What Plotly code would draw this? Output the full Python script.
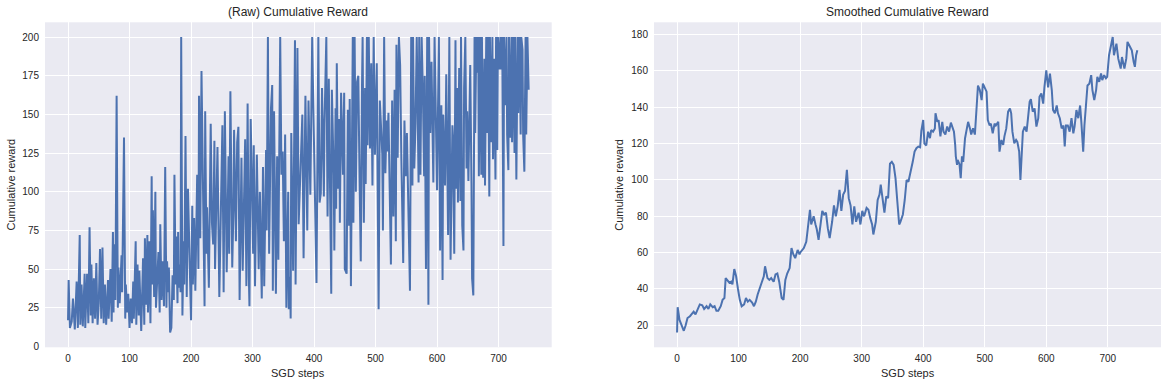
import plotly.graph_objects as go

# ---------------- data ----------------
raw_steps = [
    0, 1, 3, 6, 8, 11, 14, 16, 19, 20, 22, 24, 27, 28, 31, 33, 35, 37, 38, 40,
    42, 44, 46, 48, 50, 52, 54, 56, 58, 60, 62, 65, 66, 69, 71, 73, 74, 75, 77, 79,
    81, 82, 84, 87, 88, 91, 93, 94, 96, 98, 100, 102, 104, 106, 107, 110, 111, 113, 115, 116,
    119, 122, 124, 125, 127, 129, 130, 132, 134, 136, 137, 138, 140, 142, 143, 145, 147, 149, 150, 152,
    154, 156, 158, 160, 161, 163, 164, 166, 168, 170, 172, 173, 175, 176, 178, 179, 180, 181, 183, 184,
    186, 188, 189, 191, 193, 195, 197,
    200, 202, 203, 205, 207, 210, 212, 213, 215, 217, 219, 222, 223, 225, 226, 229, 232, 234, 236, 238,
    239, 241, 243, 246, 249, 251, 253, 255, 258, 261, 262, 264, 267, 269, 270, 273, 275, 277, 279, 282,
    284, 288, 290, 292, 294, 295, 297, 299, 301, 302, 304, 307, 310, 312, 315, 317, 319, 322, 323, 325,
    327, 330, 332, 333, 335, 338, 340, 342, 345, 347, 349, 351, 353, 355, 358, 359, 361, 362, 363, 366,
    369, 370, 373, 375, 378, 381, 383, 386, 389, 391, 394, 397, 398,
    401, 404, 407, 409, 411, 413, 416, 417, 420, 422, 424, 426, 428, 429, 432, 433, 435, 436, 437, 439,
    441, 442, 444, 447, 449, 450, 453, 455, 457, 458, 460, 463, 464, 466, 468, 470, 472, 474, 476, 478,
    479, 481, 483, 484, 486, 487, 489, 491, 493, 495, 497, 499, 502, 503, 505, 507, 509, 511, 512, 514,
    516, 518, 519, 521, 523, 525, 527, 529, 531, 533, 534, 536, 538, 540, 542, 543, 545, 547, 549, 551,
    553, 556, 558, 560, 561, 563, 565, 567, 570, 571, 573, 575, 577, 579, 580, 582, 584, 586, 587, 589,
    591, 594, 596, 598, 600,
    603, 604, 605, 607, 609, 610, 613, 615, 616, 618, 620, 621, 622, 625, 626, 628, 630, 631, 633, 634,
    636, 638, 639, 641, 643, 644, 646, 648, 649, 651, 652, 654, 656, 657, 659, 661, 662, 664, 666, 667,
    668, 670, 672, 673, 675, 677, 678, 680, 681, 683, 685, 686, 688, 690, 691, 693, 695, 696, 698, 699,
    701, 703, 704, 706, 708, 709, 711, 713, 714, 716, 717, 719, 721, 722, 724, 726, 727, 729, 731, 732,
    734, 736, 737, 739, 740, 742, 744, 745, 747, 749,
]
raw_values = [
    17, 43, 12, 16, 31, 11, 42, 12, 72, 14, 40, 13, 47, 12, 47, 15, 77, 20, 53, 15,
    44, 18, 54, 14, 28, 63, 18, 64, 15, 40, 14, 43, 18, 50, 16, 74, 22, 66, 30, 162,
    25, 51, 28, 59, 35, 135, 18, 40, 22, 34, 12, 31, 15, 42, 18, 68, 14, 53, 20, 49,
    10, 57, 14, 70, 27, 72, 22, 68, 15, 110, 40, 88, 32, 100, 25, 40, 61, 22, 79, 30,
    55, 26, 116, 25, 55, 35, 51, 9, 12, 46, 30, 111, 40, 71, 28, 74, 38, 53, 35, 200,
    20, 68, 40, 136, 32, 102, 60,
    17, 91, 40, 83, 36, 111, 50, 162, 70, 178, 102, 26, 152, 60, 90, 38, 144, 80, 66, 133,
    50, 94, 129, 32, 89, 143, 35, 152, 48, 123, 60, 165, 51, 90, 140, 68, 132, 142, 30, 122,
    49, 134, 39, 157, 45, 26, 147, 111, 60, 130, 39, 124, 50, 100, 31, 116, 39, 127, 75, 200,
    60, 154, 169, 36, 152, 34, 123, 56, 200, 111, 126, 68, 137, 25, 100, 24, 45, 18, 138, 49,
    198, 40, 193, 79, 117, 150, 57, 162, 75, 159, 98, 200, 175,
    99, 41, 200, 93, 99, 167, 97, 144, 200, 84, 173, 110, 34, 166, 111, 62, 154, 89, 183, 102,
    147, 80, 164, 111, 164, 50, 47, 153, 78, 160, 39, 200, 80, 200, 100, 171, 175, 109, 55, 168,
    200, 80, 167, 105, 200, 130, 200, 128, 183, 104, 200, 124, 183, 127, 24, 159, 145, 124, 75, 200,
    112, 146, 126, 151, 102, 53, 159, 84, 166, 68, 195, 122, 200, 182, 121, 104, 54, 146, 110, 138,
    95, 36, 200, 104, 200, 115, 144, 200, 106, 200, 111, 200, 164, 110, 175, 50, 200, 27, 200, 138,
    184, 106, 200, 156, 101,
    200, 104, 62, 156, 43, 150, 104, 176, 128, 72, 200, 137, 56, 143, 135, 60, 198, 102, 167, 93,
    180, 94, 200, 78, 62, 167, 200, 115, 152, 107, 131, 182, 106, 44, 33, 200, 138, 200, 177, 200,
    110, 200, 111, 200, 109, 186, 104, 200, 138, 200, 97, 200, 132, 200, 121, 186, 108, 200, 127, 200,
    179, 200, 179, 200, 65, 200, 156, 200, 137, 114, 200, 135, 200, 132, 200, 125, 200, 108, 200, 151,
    200, 137, 200, 192, 137, 113, 200, 137, 200, 166,
]

smooth_steps = [
    0, 1, 4, 8, 11, 14, 17, 21, 24, 27, 30, 34, 37, 41, 44, 48, 51, 54, 58, 61,
    64, 67, 71, 74, 77, 79, 82, 85, 88, 90, 93, 96, 99, 102, 105, 109, 112, 115, 118, 122,
    125, 128, 131, 135, 138, 141, 143, 147, 150, 153, 157, 160, 163, 166, 170, 173, 176, 179, 183, 186,
    189, 192, 196, 199,
    200, 203, 206, 210, 213, 216, 218, 222, 225, 227, 230, 233, 236, 239, 242, 245, 248, 252, 255, 258,
    261, 264, 267, 270, 273, 276, 279, 282, 285, 288, 291, 295, 298, 301, 304, 308, 311, 314, 317, 319,
    323, 326, 329, 331, 334, 337, 340, 343, 346, 349, 352, 355, 358, 361, 363, 367, 370, 373, 376, 380,
    383, 386, 389, 392, 395, 397, 400, 402, 405,
    408, 411, 413, 416, 419, 420, 423, 425, 428, 431, 433, 436, 439, 442, 445, 447, 450, 452, 453, 455,
    456, 459, 461, 463, 465, 468, 470, 473, 476, 478, 481, 484, 487, 489, 492, 495, 497, 500, 503, 505,
    508, 510, 513, 516, 518, 522, 524, 527, 530, 532, 535, 538, 541, 543, 545, 548, 551, 553, 556, 558,
    560, 562, 565, 568, 570, 573, 575, 578, 581, 584, 587, 589, 592, 595, 597,
    600, 603, 606, 609, 611, 614, 617, 619, 622, 625, 628, 630, 632, 635, 638, 641, 644, 646, 649, 652,
    655, 657, 660, 662, 665, 667, 670, 673, 675, 678, 681, 683, 686, 689, 691, 694, 697, 699, 702, 705,
    708, 710, 712, 714, 717, 719, 721, 723, 725, 727, 730, 732, 735, 737, 739, 742, 744, 746, 748,
]
smooth_values = [
    16, 30, 23, 20, 17, 20, 24, 25, 26.5, 27.5, 26, 29, 31.5, 31, 29, 30.5, 29, 31.5, 30, 30.5,
    28, 28, 30.5, 34, 35, 46, 45, 43.5, 44, 42.5, 51, 47, 40, 34, 30.5, 31.5, 35, 33, 34, 32.5,
    30.5, 33, 37, 41.5, 43.5, 47, 52.5, 46, 45, 46, 44, 48, 48.5, 44, 35, 34, 45, 48.5, 51.5, 62.5,
    59, 57, 61.5, 59,
    60, 61, 62.5, 66, 73.5, 83.6, 75.5, 80, 75.5, 73, 67, 75.5, 83, 81, 82, 73.5, 68, 77, 86, 80,
    85.5, 94.6, 83, 92, 94, 105.6, 90, 86, 75.5, 85.5, 77, 82, 75.5, 83, 80, 84.6, 83.6, 79, 75.5, 70,
    77, 89, 92, 97.4, 89, 82, 91, 90, 109, 110, 108.3, 101, 88, 75.5, 77, 81, 89, 100, 99, 104.7,
    110, 115.6, 117.5, 118.4, 118, 127, 133, 120, 119,
    126.6, 123, 127.5, 126.6, 128.4, 136.7, 132, 133, 124, 132, 126.6, 125, 129.4, 126.6, 131.6, 130, 126.6, 119.3, 113, 108.3,
    111, 108.7, 101, 113, 110, 123, 126.6, 132, 128.4, 125, 128.4, 125, 141, 152, 149.5, 144, 153, 150.4, 148.6, 133,
    130, 131, 125.7, 131, 130, 132, 115.6, 122, 119.3, 124, 128.4, 137.6, 139.4, 136.7, 126.6, 120.2, 122, 121, 115.6, 100,
    116.5, 126.6, 129.4, 126.6, 133, 143, 144.5, 137.6, 139.4, 129.4, 134, 145.8, 147.6, 142, 151,
    160.4, 151, 158.6, 149.5, 138.5, 136.7, 141, 136.7, 134, 128.4, 130, 118.4, 130, 130, 126.6, 134, 125.7, 129.4, 138.5, 134,
    141, 132, 115.6, 130, 144, 152, 153, 157.7, 149.5, 144, 149.5, 156.8, 154, 158.6, 155, 157.7, 156, 156.8, 168.7, 174,
    178.7, 168.7, 171.4, 175, 166.8, 164, 161.3, 167.7, 164, 161.3, 166.8, 176, 174, 172.3, 171.4, 165, 162.3, 168.7, 171.4,
]

assert len(raw_steps) == len(raw_values), (len(raw_steps), len(raw_values))
assert len(smooth_steps) == len(smooth_values), (len(smooth_steps), len(smooth_values))

x_ticks = [0, 100, 200, 300, 400, 500, 600, 700]
raw_y_ticks = [0, 25, 50, 75, 100, 125, 150, 175, 200]
smooth_y_ticks = [20, 40, 60, 80, 100, 120, 140, 160, 180]

titles = ["(Raw) Cumulative Reward", "Smoothed Cumulative Reward"]
x_label = "SGD steps"
y_label = "Cumulative reward"

# ---------------- style ----------------
W, H = 1168, 386
LINE = "#4C72B0"
BG = "#EAEAF2"
TXT = "#262626"
FONT = "Liberation Sans, Arial, sans-serif"

# target pixel positions in the window
left_px = (45, 551.7)
right_px = (654, 1161)
top_px, bot_px = 22.3, 347.3


def fx(px):
    return px / W


def fy(py):
    return (H - py) / H


fig = go.Figure()
fig.add_trace(go.Scatter(x=raw_steps, y=raw_values, mode="lines",
                         line=dict(color=LINE, width=2), xaxis="x", yaxis="y",
                         showlegend=False))
fig.add_trace(go.Scatter(x=smooth_steps, y=smooth_values, mode="lines",
                         line=dict(color=LINE, width=2), xaxis="x2", yaxis="y2",
                         showlegend=False))

axis_common = dict(showgrid=True, gridcolor="white", gridwidth=1, zeroline=False,
                   showline=False, ticks="", tickfont=dict(size=10, color=TXT, family=FONT),
                   automargin=False)

fig.update_layout(
    width=W, height=H,
    margin=dict(l=0, r=0, t=0, b=0),
    paper_bgcolor="white",
    plot_bgcolor=BG,
    font=dict(family=FONT, color=TXT),
    xaxis=dict(domain=[fx(left_px[0]), fx(left_px[1])], anchor="y",
               range=[-37.45, 786.45], tickvals=x_ticks, ticklabelstandoff=4, **axis_common),
    yaxis=dict(domain=[fy(bot_px), fy(top_px)], anchor="x",
               range=[-0.55, 209.55], tickvals=raw_y_ticks, ticklabelstandoff=5, **axis_common),
    xaxis2=dict(domain=[fx(right_px[0]), fx(right_px[1])], anchor="y2",
                range=[-37.45, 786.45], tickvals=x_ticks, ticklabelstandoff=4, **axis_common),
    yaxis2=dict(domain=[fy(bot_px), fy(top_px)], anchor="x2",
                range=[7.9, 186.8], tickvals=smooth_y_ticks, ticklabelstandoff=5, **axis_common),
)

annots = []
for (l, r), title, ytx in [(left_px, titles[0], 10.7), (right_px, titles[1], 619)]:
    cx = fx((l + r) / 2)
    annots.append(dict(text=title, x=cx, y=fy(12), xref="paper", yref="paper",
                       xanchor="center", yanchor="middle", showarrow=False,
                       font=dict(size=12, color=TXT, family=FONT)))
    annots.append(dict(text=x_label, x=cx, y=fy(373), xref="paper", yref="paper",
                       xanchor="center", yanchor="middle", showarrow=False,
                       font=dict(size=11, color=TXT, family=FONT)))
    annots.append(dict(text=y_label, x=fx(ytx), y=fy((top_px + bot_px) / 2), xref="paper",
                       yref="paper", xanchor="center", yanchor="middle", textangle=-90,
                       showarrow=False, font=dict(size=11, color=TXT, family=FONT)))
fig.update_layout(annotations=annots)

fig.write_html(
    "out.html",
    config={"displayModeBar": False},
    post_script="document.body.style.margin='0px';document.body.style.overflow='hidden';",
)
